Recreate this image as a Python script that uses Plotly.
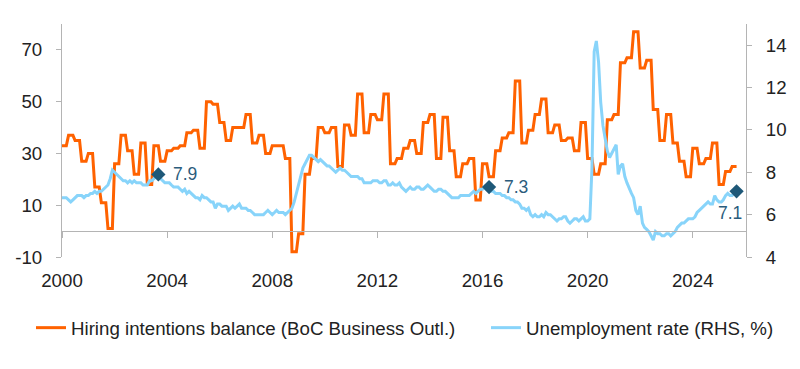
import pandas as pd
import plotly.graph_objects as go

# Hiring intentions balance (BoC Business Outlook Survey), quarterly 2000Q1-2025Q3
hiring_q = [
    33, 37, 35, 27,   # 2000
    30, 17, 11, 1,    # 2001
    26, 37, 31, 22,   # 2002
    34, 18, 33, 27,   # 2003
    31, 32, 33, 38,   # 2004
    39, 32, 50, 49,   # 2005
    42, 35, 40, 40,   # 2006
    45, 34, 37, 30,   # 2007
    33, 33, 28, -8,   # 2008
    -1, 22, 28, 40,   # 2009
    38, 40, 25, 41,   # 2010
    37, 53, 38, 45,   # 2011
    43, 53, 26, 28,   # 2012
    32, 35, 30, 42,   # 2013
    45, 28, 44, 31,   # 2014
    21, 26, 28, 12,   # 2015
    26, 21, 31, 36,   # 2016
    38, 58, 34, 39,   # 2017
    45, 51, 38, 41,   # 2018
    35, 36, 31, 42,   # 2019
    28, 22, 26, 43,   # 2020
    45, 65, 67, 77,   # 2021
    63, 66, 47, 35,   # 2022
    45, 34, 27, 21,   # 2023
    32, 26, 28, 34,   # 2024
    18, 23, 25,       # 2025
]

# Unemployment rate (%), monthly Jan 2000 - Sep 2025
unemp = [
    6.8, 6.8, 6.8, 6.7, 6.6, 6.7, 6.8, 6.9, 6.9, 6.9, 6.8, 6.9,   # 2000
    6.9, 7.0, 7.0, 7.1, 7.0, 7.1, 7.1, 7.2, 7.3, 7.4, 7.7, 8.1,   # 2001
    8.0, 7.9, 7.8, 7.7, 7.6, 7.6, 7.5, 7.6, 7.5, 7.6, 7.5, 7.5,   # 2002
    7.5, 7.4, 7.4, 7.4, 7.6, 7.6, 7.7, 7.8, 7.9, 7.7, 7.6, 7.5,   # 2003
    7.5, 7.5, 7.4, 7.3, 7.3, 7.3, 7.2, 7.1, 7.2, 7.0, 7.1, 7.0,   # 2004
    6.9, 6.8, 6.8, 6.7, 6.9, 6.8, 6.8, 6.7, 6.6, 6.6, 6.3, 6.5,   # 2005
    6.5, 6.4, 6.4, 6.4, 6.2, 6.3, 6.4, 6.3, 6.4, 6.5, 6.3, 6.3,   # 2006
    6.3, 6.2, 6.2, 6.1, 6.0, 6.0, 6.0, 6.0, 6.0, 6.1, 6.2, 6.1,   # 2007
    6.0, 6.1, 6.2, 6.1, 6.1, 6.1, 6.0, 6.1, 6.2, 6.3, 6.6, 7.0,   # 2008
    7.4, 7.9, 8.2, 8.4, 8.6, 8.8, 8.8, 8.7, 8.6, 8.5, 8.6, 8.5,   # 2009
    8.4, 8.3, 8.3, 8.2, 8.1, 8.0, 8.1, 8.2, 8.1, 8.1, 8.0, 7.9,   # 2010
    7.8, 7.8, 7.8, 7.8, 7.7, 7.7, 7.5, 7.5, 7.5, 7.5, 7.6, 7.6,   # 2011
    7.6, 7.5, 7.5, 7.6, 7.6, 7.4, 7.4, 7.5, 7.4, 7.4, 7.5, 7.3,   # 2012
    7.2, 7.1, 7.2, 7.3, 7.2, 7.2, 7.3, 7.3, 7.2, 7.2, 7.3, 7.4,   # 2013
    7.3, 7.2, 7.1, 7.1, 7.2, 7.2, 7.1, 7.1, 7.0, 6.9, 6.8, 6.8,   # 2014
    6.8, 6.8, 6.9, 6.9, 6.9, 6.9, 6.9, 7.0, 7.1, 7.0, 7.1, 7.2,   # 2015
    7.2, 7.3, 7.2, 7.3, 7.1, 7.1, 7.0, 7.0, 7.0, 6.9, 6.9, 6.8,   # 2016
    6.8, 6.7, 6.7, 6.6, 6.6, 6.5, 6.3, 6.3, 6.2, 6.3, 6.0, 5.9,   # 2017
    6.0, 5.9, 5.9, 6.0, 5.9, 6.1, 6.0, 6.0, 5.9, 5.8, 5.7, 5.8,   # 2018
    5.8, 5.9, 5.9, 5.7, 5.6, 5.7, 5.8, 5.8, 5.7, 5.8, 5.9, 5.7,   # 2019
    5.7, 5.8, 8.2, 13.7, 14.2, 13.2, 11.3, 10.2, 9.6, 9.0, 8.7, 8.9,   # 2020
    9.1, 9.3, 7.9, 8.3, 8.4, 7.8, 7.5, 7.2, 7.0, 6.8, 6.2, 6.0,   # 2021
    6.4, 5.6, 5.4, 5.3, 5.2, 5.0, 4.8, 5.2, 5.1, 5.1, 5.0, 5.0,   # 2022
    5.1, 5.1, 5.0, 5.1, 5.2, 5.4, 5.5, 5.6, 5.6, 5.7, 5.8, 5.8,   # 2023
    5.8, 5.9, 6.1, 6.2, 6.3, 6.4, 6.5, 6.6, 6.5, 6.5, 6.9, 6.7,   # 2024
    6.6, 6.6, 6.7, 6.9, 7.0, 6.9, 6.9, 7.0, 7.1,                  # 2025
]

highlight_dates = ["2003-09-01", "2016-04-01", "2025-09-01"]
x_tick_years = [2000, 2004, 2008, 2012, 2016, 2020, 2024]
left_ticks = [-10, 10, 30, 50, 70]
right_ticks = [4, 6, 8, 10, 12, 14]

dates = pd.date_range("2000-01-01", periods=len(unemp), freq="MS")
hiring_m = [v for v in hiring_q for _ in range(3)]
u_series = pd.Series(unemp, index=dates)
hl_vals = [float(u_series[pd.Timestamp(d)]) for d in highlight_dates]

ORANGE = "#FF6200"
BLUE = "#88D4FA"
DARK = "#1E5878"
AXIS = "#B4B4B4"
FONT = "Liberation Sans, Arial, sans-serif"
TXT = "#222222"
FS = 18.7

tickvals_x = [f"{y}-01-01" for y in x_tick_years]
xrange_ = ["2000-01-01", "2026-01-10"]

fig = go.Figure()
fig.add_trace(go.Scatter(
    x=dates, y=hiring_m, mode="lines", name="Hiring intentions balance (BoC Business Outl.)",
    line=dict(color=ORANGE, width=3), yaxis="y", xaxis="x", legend="legend"))
fig.add_trace(go.Scatter(
    x=dates, y=unemp, mode="lines", name="Unemployment rate (RHS, %)",
    line=dict(color=BLUE, width=3), yaxis="y2", xaxis="x", legend="legend2"))
fig.add_trace(go.Scatter(
    x=highlight_dates, y=hl_vals, mode="markers", showlegend=False,
    marker=dict(symbol="diamond", size=11, color=DARK), yaxis="y2", xaxis="x"))
# dummy trace so the zero-line axis is drawn
fig.add_trace(go.Scatter(x=[dates[0]], y=[None], xaxis="x3", yaxis="y",
                         showlegend=False, hoverinfo="skip"))

label_pos = [dict(xanchor="left", xshift=13, yshift=0),
             dict(xanchor="left", xshift=13, yshift=0),
             dict(xanchor="right", xshift=7, yshift=-22)]
for d, v, p in zip(highlight_dates, hl_vals, label_pos):
    fig.add_annotation(x=d, y=v, xref="x", yref="y2", text=f"{v:.1f}", showarrow=False,
                       font=dict(family=FONT, size=17.5, color="#2B5C7C"),
                       yanchor="middle", **p)

leg_common = dict(orientation="h", xref="container", yref="container", y=1 - 320 / 369,
                  yanchor="middle", xanchor="left", itemwidth=30,
                  font=dict(family=FONT, size=FS, color=TXT), bgcolor="rgba(0,0,0,0)")

fig.update_layout(
    width=800, height=369,
    margin=dict(l=54, r=62, t=16, b=120, autoexpand=False),
    paper_bgcolor="white", plot_bgcolor="white",
    font=dict(family=FONT, size=FS, color=TXT),
    showlegend=True,
    legend=dict(x=23 / 800, **leg_common),
    legend2=dict(x=478 / 800, **leg_common),
    xaxis=dict(type="date", range=xrange_, tickvals=tickvals_x, tickformat="%Y",
               showgrid=False, zeroline=False, showline=False, ticks="", automargin=False,
               ticklabelstandoff=10, tickfont=dict(size=FS, color=TXT)),
    xaxis3=dict(type="date", range=xrange_, tickvals=tickvals_x, overlaying="x",
                anchor="free", position=10 / 90, showgrid=False, zeroline=False,
                showline=True, linecolor=AXIS, linewidth=1, ticks="outside", automargin=False,
                ticklen=6, tickcolor=AXIS, showticklabels=False),
    yaxis=dict(range=[-10, 80], tickvals=left_ticks, ticktext=[str(v) for v in left_ticks],
               showgrid=False, zeroline=False, automargin=False,
               showline=True, linecolor=AXIS, linewidth=1, ticks="outside", ticklen=5,
               tickcolor=AXIS, ticklabelstandoff=10, tickfont=dict(size=FS, color=TXT)),
    yaxis2=dict(range=[4, 15], tickvals=right_ticks, overlaying="y", side="right",
                showgrid=False, zeroline=False, showline=True, linecolor=AXIS, linewidth=1,
                ticks="outside", ticklen=5, tickcolor=AXIS, ticklabelstandoff=10,
                automargin=False, tickfont=dict(size=FS, color=TXT)),
)

fig.write_html("out.html")
